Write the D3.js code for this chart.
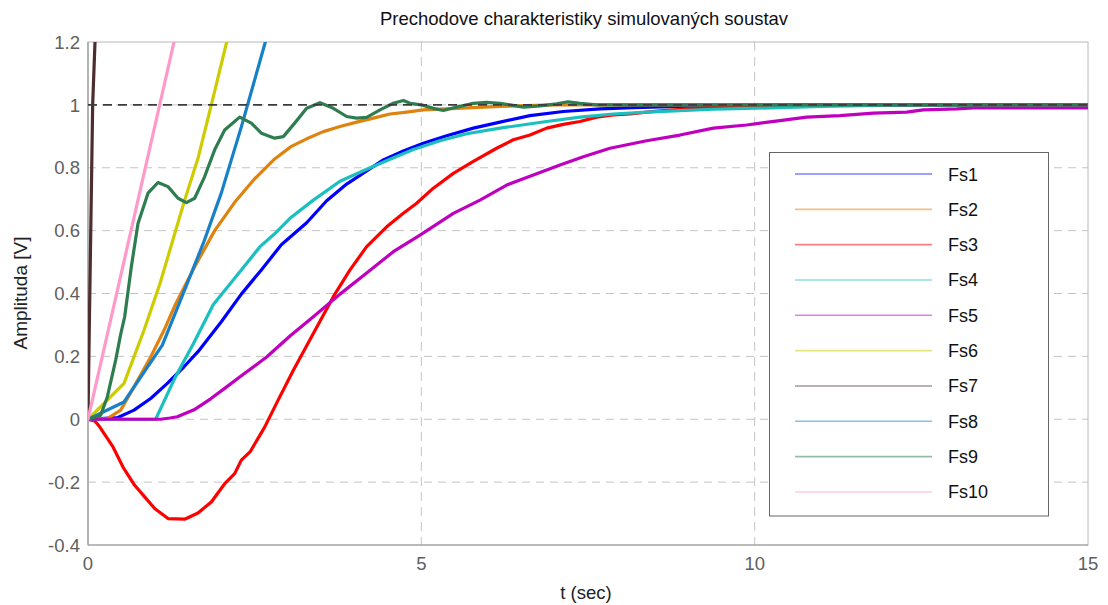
<!DOCTYPE html>
<html>
<head>
<meta charset="utf-8">
<script src="https://cdn.jsdelivr.net/npm/d3@7"></script>
<style>
  html, body { margin: 0; padding: 0; background: #fff; }
  svg { display: block; font-family: "Liberation Sans", Arial, sans-serif; }
</style>
</head>
<body>
<svg id="chart" width="1108" height="605"></svg>
<script>
// ---------- data ----------
const seriesNames = ["Fs1","Fs2","Fs3","Fs4","Fs5","Fs6","Fs7","Fs8","Fs9","Fs10"];
const seriesColors = ["#0000ff","#e0820e","#ff0000","#1bbfbf","#bf00bf","#cccc00","#4d2e2e","#1680c8","#2e7d50","#ff99c8"];

const fs1 = [[0,0],[0.44,0.005],[0.69,0.029],[0.94,0.066],[1.19,0.114],[1.44,0.167],[1.65,0.215],[2.0,0.31],[2.3,0.398],[2.6,0.475],[2.9,0.555],[3.28,0.625],[3.58,0.695],[3.88,0.748],[4.18,0.79],[4.43,0.825],[4.73,0.853],[5.03,0.878],[5.38,0.902],[5.78,0.926],[6.18,0.945],[6.63,0.966],[7.13,0.979],[7.68,0.987],[8.18,0.991],[8.88,0.995],[10,0.999],[15,1.0]];
const fs2 = [[0,0],[0.29,0.002],[0.49,0.029],[0.69,0.103],[0.94,0.198],[1.14,0.283],[1.3,0.36],[1.6,0.485],[1.9,0.6],[2.2,0.69],[2.5,0.765],[2.8,0.828],[3.05,0.868],[3.28,0.892],[3.53,0.915],[3.78,0.931],[4.03,0.945],[4.28,0.958],[4.53,0.971],[4.78,0.977],[5.03,0.984],[5.53,0.989],[6.18,0.995],[7.0,1.0],[15,1.0]];
const fs3 = [[0,0],[0.1,-0.005],[0.175,-0.024],[0.375,-0.088],[0.525,-0.152],[0.7,-0.21],[0.85,-0.247],[1.0,-0.284],[1.2,-0.316],[1.45,-0.318],[1.65,-0.298],[1.85,-0.263],[2.05,-0.205],[2.2,-0.173],[2.3,-0.13],[2.43,-0.104],[2.65,-0.025],[2.85,0.06],[3.08,0.156],[3.38,0.273],[3.68,0.39],[3.93,0.475],[4.18,0.549],[4.48,0.612],[4.73,0.655],[4.93,0.687],[5.18,0.735],[5.48,0.782],[5.78,0.82],[6.13,0.862],[6.38,0.889],[6.63,0.904],[6.88,0.926],[7.13,0.938],[7.38,0.947],[7.63,0.961],[7.88,0.968],[8.13,0.971],[8.38,0.977],[8.63,0.982],[9.13,0.989],[9.63,0.995],[10.5,0.999],[15,1.0]];
const fs4 = [[0,0],[1.015,0],[1.3,0.13],[1.58,0.24],[1.88,0.365],[2.3,0.475],[2.58,0.549],[2.8,0.59],[3.03,0.639],[3.38,0.697],[3.78,0.757],[4.18,0.795],[4.53,0.827],[4.88,0.858],[5.28,0.886],[5.68,0.908],[6.18,0.926],[6.88,0.947],[7.38,0.961],[7.88,0.971],[8.38,0.977],[8.88,0.982],[9.38,0.986],[9.88,0.989],[10.38,0.991],[11.0,0.995],[12.0,0.999],[15,1.0]];
const fs5 = [[0,0],[1.09,0],[1.23,0.004],[1.34,0.008],[1.59,0.03],[1.84,0.065],[2.08,0.103],[2.28,0.135],[2.68,0.198],[3.03,0.265],[3.38,0.326],[3.78,0.398],[4.18,0.465],[4.58,0.533],[4.98,0.586],[5.48,0.655],[5.88,0.697],[6.28,0.745],[6.68,0.777],[7.08,0.809],[7.43,0.835],[7.83,0.862],[8.38,0.886],[8.88,0.904],[9.38,0.926],[9.88,0.936],[10.38,0.95],[10.78,0.961],[11.28,0.966],[11.78,0.974],[12.28,0.977],[12.53,0.984],[13.03,0.987],[13.28,0.99],[14.0,0.99],[15,0.99]];
const fs6 = [[0,0],[0.54,0.114],[0.84,0.283],[1.08,0.432],[1.45,0.697],[1.65,0.83],[1.85,1.0],[2.08,1.2],[2.2,1.3]];
const fs7 = [[0,0],[0.02,0.3],[0.07,1.0],[0.105,1.2],[0.12,1.4]];
const fs8 = [[0,0],[0.54,0.055],[1.115,0.236],[1.4,0.385],[1.73,0.56],[2.0,0.72],[2.3,0.93],[2.66,1.2],[2.8,1.31]];
const fs9 = [[0,0],[0.19,0.013],[0.29,0.071],[0.415,0.188],[0.49,0.27],[0.55,0.326],[0.65,0.485],[0.75,0.623],[0.9,0.719],[1.05,0.753],[1.2,0.74],[1.35,0.703],[1.475,0.689],[1.6,0.703],[1.75,0.772],[1.9,0.857],[2.05,0.92],[2.275,0.961],[2.45,0.942],[2.6,0.91],[2.8,0.894],[2.93,0.899],[3.1,0.942],[3.28,0.989],[3.48,1.007],[3.68,0.989],[3.88,0.963],[4.03,0.958],[4.18,0.96],[4.38,0.984],[4.58,1.005],[4.73,1.014],[4.83,1.005],[5.0,1.0],[5.18,0.989],[5.33,0.982],[5.53,0.993],[5.78,1.005],[5.98,1.008],[6.18,1.005],[6.33,1.0],[6.53,0.993],[6.78,0.997],[7.03,1.003],[7.2,1.01],[7.38,1.005],[7.63,1.0],[8.0,1.0],[15,1.0]];
const fs10 = [[0,0],[1.29,1.2],[1.45,1.35]];
const seriesData = [fs1,fs2,fs3,fs4,fs5,fs6,fs7,fs8,fs9,fs10];

const xTicks = [0,5,10,15];
const xTickLabels = ["0","5","10","15"];
const yTicks = [-0.4,-0.2,0,0.2,0.4,0.6,0.8,1.0,1.2];
const yTickLabels = ["-0.4","-0.2","0","0.2","0.4","0.6","0.8","1","1.2"];
const referenceLevel = 1.0;

const titleText = "Prechodove charakteristiky simulovaných soustav";
const xLabel = "t (sec)";
const yLabel = "Amplituda [V]";

// ---------- layout ----------
const svg = d3.select("#chart");
const pLeft = 88, pRight = 1088, pTop = 42, pBottom = 545;

const x = d3.scaleLinear().domain([0,15]).range([pLeft,pRight]);
const y = d3.scaleLinear().domain([-0.4,1.2]).range([pBottom,pTop]);

svg.append("defs").append("clipPath").attr("id","plotclip")
  .append("rect").attr("x",pLeft).attr("y",pTop).attr("width",pRight-pLeft).attr("height",pBottom-pTop);

// grid
const grid = svg.append("g");
grid.selectAll("line.h").data(yTicks.filter(v => v > -0.4 && v < 1.2)).join("line")
  .attr("x1",pLeft).attr("x2",pRight)
  .attr("y1",d=>y(d)).attr("y2",d=>y(d))
  .attr("stroke","#c4c4c4").attr("stroke-width",1).attr("stroke-dasharray","8,6");
grid.selectAll("line.v").data(xTicks.filter(v => v > 0 && v < 15)).join("line")
  .attr("y1",pTop).attr("y2",pBottom)
  .attr("x1",d=>x(d)).attr("x2",d=>x(d))
  .attr("stroke","#c4c4c4").attr("stroke-width",1).attr("stroke-dasharray","9,6");

// frame
svg.append("rect").attr("x",pLeft).attr("y",pTop).attr("width",pRight-pLeft).attr("height",pBottom-pTop)
  .attr("fill","none").attr("stroke","#b8b8b8").attr("stroke-width",1);
svg.append("line").attr("x1",pLeft).attr("x2",pLeft).attr("y1",pTop).attr("y2",pBottom).attr("stroke","#999").attr("stroke-width",1.2);
svg.append("line").attr("x1",pLeft).attr("x2",pRight).attr("y1",pBottom).attr("y2",pBottom).attr("stroke","#999").attr("stroke-width",1.2);

// series
const line = d3.line().x(d=>x(d[0])).y(d=>y(d[1]));
const plot = svg.append("g").attr("clip-path","url(#plotclip)");
plot.selectAll("path.s").data(seriesData).join("path")
  .attr("d",line)
  .attr("fill","none")
  .attr("stroke",(d,i)=>seriesColors[i])
  .attr("stroke-width",3.2)
  .attr("stroke-linejoin","round")
  .attr("stroke-linecap","round");

// reference dashed line
plot.append("line")
  .attr("x1",x(0)).attr("x2",x(15))
  .attr("y1",y(referenceLevel)).attr("y2",y(referenceLevel))
  .attr("stroke","#3c3c3c").attr("stroke-width",1.6).attr("stroke-dasharray","9,6");

// axis labels
svg.append("g").selectAll("text").data(yTicks).join("text")
  .attr("x",80).attr("y",d=>y(d))
  .attr("dy","0.36em")
  .attr("text-anchor","end")
  .attr("font-size",18.5).attr("fill","#606060")
  .text((d,i)=>yTickLabels[i]);
svg.append("g").selectAll("text").data(xTicks).join("text")
  .attr("x",d=>x(d)).attr("y",570)
  .attr("text-anchor","middle")
  .attr("font-size",18.5).attr("fill","#606060")
  .text((d,i)=>xTickLabels[i]);

svg.append("text").attr("x",586).attr("y",599).attr("text-anchor","middle")
  .attr("font-size",18.5).attr("fill","#222").text(xLabel);
svg.append("text").attr("transform","translate(27,293) rotate(-90)").attr("text-anchor","middle")
  .attr("font-size",19).attr("fill","#222").text(yLabel);
svg.append("text").attr("x",584).attr("y",25).attr("text-anchor","middle")
  .attr("font-size",18.5).attr("fill","#111").text(titleText);

// legend
const lg = svg.append("g");
lg.append("rect").attr("x",769.5).attr("y",152.5).attr("width",279).attr("height",363.5)
  .attr("fill","#fff").attr("stroke","#666").attr("stroke-width",1);
const rowY = i => 174 + i*35.33;
lg.selectAll("line.l").data(seriesNames).join("line")
  .attr("x1",795).attr("x2",932)
  .attr("y1",(d,i)=>rowY(i)).attr("y2",(d,i)=>rowY(i))
  .attr("stroke",(d,i)=>seriesColors[i]).attr("stroke-opacity",0.5).attr("stroke-width",1.6);
lg.selectAll("text").data(seriesNames).join("text")
  .attr("x",948).attr("y",(d,i)=>rowY(i)+6.5)
  .attr("font-size",18).attr("fill","#111")
  .text(d=>d);
</script>
</body>
</html>
